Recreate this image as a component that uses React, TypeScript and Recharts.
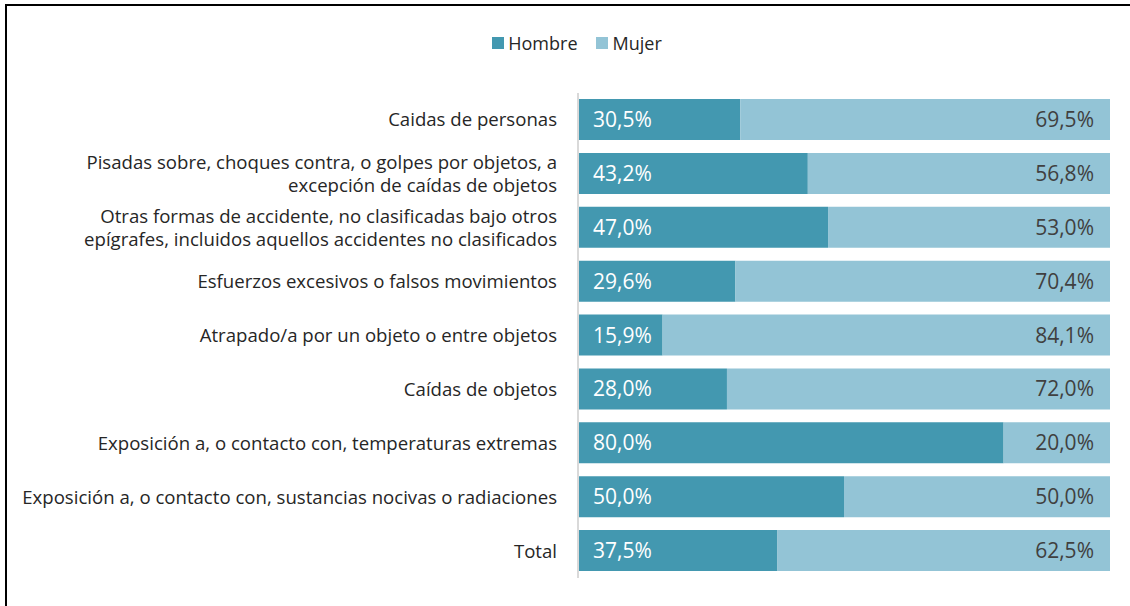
import { BarChart, Bar, XAxis, YAxis, LabelList } from 'recharts';

const categories = [
  'Caidas de personas',
  'Pisadas sobre, choques contra, o golpes por objetos, a\nexcepción de caídas de objetos',
  'Otras formas de accidente, no clasificadas bajo otros\nepígrafes, incluidos aquellos accidentes no clasificados',
  'Esfuerzos excesivos o falsos movimientos',
  'Atrapado/a por un objeto o entre objetos',
  'Caídas de objetos',
  'Exposición a, o contacto con, temperaturas extremas',
  'Exposición a, o contacto con, sustancias nocivas o radiaciones',
  'Total',
];
const hombre = [30.5, 43.2, 47.0, 29.6, 15.9, 28.0, 80.0, 50.0, 37.5];
const mujer = [69.5, 56.8, 53.0, 70.4, 84.1, 72.0, 20.0, 50.0, 62.5];

const HOMBRE = '#4398B0';
const MUJER = '#93C4D6';
const FONT = '"Open Sans", sans-serif';

const data = categories.map((name, i) => ({ name, hombre: hombre[i], mujer: mujer[i] }));

const fmt = (v: unknown) => `${Number(v).toFixed(1).replace('.', ',')}%`;

function CategoryTick(props: any) {
  const { x, y, payload } = props;
  const lines = String(payload.value).split('\n');
  const lh = 23;
  const start = -((lines.length - 1) * lh) / 2;
  return (
    <text x={x} y={y} textAnchor="end" fill="#262626" fontSize={18.6} fontFamily={FONT}>
      {lines.map((l, i) => (
        <tspan key={i} x={x} dy={i === 0 ? start + 6.5 : lh}>{l}</tspan>
      ))}
    </text>
  );
}

export default function App() {
  return (
    <div style={{ position: 'absolute', left: 0, top: 0, width: 1130, height: 606, overflow: 'hidden', background: '#fff', fontFamily: FONT }}>
      <div style={{ position: 'absolute', left: 5, top: 4, width: 1200, height: 700, border: '2px solid #000' }} />
      <div style={{ position: 'absolute', top: 31, left: 0, width: 1154, display: 'flex', justifyContent: 'center', gap: 18, fontSize: 18, color: '#262626' }}>
        <span style={{ display: 'flex', alignItems: 'center' }}>
          <span style={{ width: 12, height: 12, background: HOMBRE, marginRight: 4 }} />Hombre
        </span>
        <span style={{ display: 'flex', alignItems: 'center' }}>
          <span style={{ width: 12, height: 12, background: MUJER, marginRight: 5 }} />Mujer
        </span>
      </div>
      <div style={{ position: 'absolute', left: 0, top: 0 }}>
        <BarChart
          width={1130}
          height={606}
          data={data}
          layout="vertical"
          margin={{ top: 93, right: 20, bottom: 28, left: 0 }}
        >
          <XAxis type="number" domain={[0, 100]} hide />
          <YAxis
            type="category"
            dataKey="name"
            width={578}
            axisLine={{ stroke: '#D9D9D9', strokeWidth: 2 }}
            tickLine={false}
            tickSize={6}
            tickMargin={15}
            tick={<CategoryTick />}
            interval={0}
          />
          <Bar dataKey="hombre" stackId="a" fill={HOMBRE} barSize={41} isAnimationActive={false}>
            <LabelList
              dataKey="hombre"
              position="insideLeft"
              offset={15}
              formatter={fmt}
              fill="#fff"
              fontSize={21}
              fontFamily={FONT}
            />
          </Bar>
          <Bar dataKey="mujer" stackId="a" fill={MUJER} barSize={41} isAnimationActive={false}>
            <LabelList
              dataKey="mujer"
              position="insideRight"
              offset={16}
              formatter={fmt}
              fill="#404040"
              fontSize={21}
              fontFamily={FONT}
            />
          </Bar>
        </BarChart>
      </div>
    </div>
  );
}
